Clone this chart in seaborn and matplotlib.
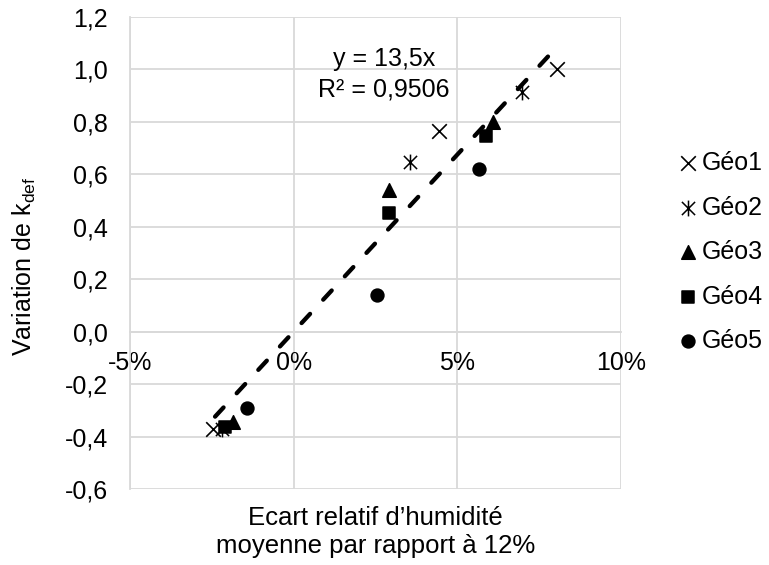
import numpy as np
import pandas as pd
import matplotlib
matplotlib.use("Agg")
import matplotlib.pyplot as plt
from matplotlib.path import Path
from matplotlib.ticker import FuncFormatter
import seaborn as sns

# Données (écart en fraction, variation de k_def)
series = ["Géo1", "Géo2", "Géo3", "Géo4", "Géo5"]
geo1_x = [-0.0245, 0.0444, 0.0805]
geo1_y = [-0.370, 0.764, 1.000]
geo2_x = [-0.0220, 0.0356, 0.0697]
geo2_y = [-0.370, 0.646, 0.913]
geo3_x = [-0.0185, 0.0291, 0.0609]
geo3_y = [-0.344, 0.540, 0.800]
geo4_x = [-0.0210, 0.0291, 0.0588]
geo4_y = [-0.362, 0.454, 0.746]
geo5_x = [-0.0142, 0.0255, 0.0566]
geo5_y = [-0.290, 0.140, 0.620]

trend_slope = 13.5
trend_r2 = 0.9506
trend_range = [-0.0240, 0.0777]

x_ticks = [-0.05, 0.0, 0.05, 0.10]
y_ticks = [-0.6, -0.4, -0.2, 0.0, 0.2, 0.4, 0.6, 0.8, 1.0, 1.2]

# astérisque façon Excel : croix + barre verticale
star_path = Path(
    [(-1, -1), (1, 1), (-1, 1), (1, -1), (0, -1.2), (0, 1.2)],
    [Path.MOVETO, Path.LINETO, Path.MOVETO, Path.LINETO, Path.MOVETO, Path.LINETO],
)

markers = {"Géo1": "x", "Géo2": star_path, "Géo3": "^", "Géo4": "s", "Géo5": "o"}
sizes = {"Géo1": 110, "Géo2": 130, "Géo3": 95, "Géo4": 80, "Géo5": 85}

df = pd.DataFrame({
    "x": geo1_x + geo2_x + geo3_x + geo4_x + geo5_x,
    "y": geo1_y + geo2_y + geo3_y + geo4_y + geo5_y,
    "serie": sum([[s] * 3 for s in series], []),
})

sns.set_style("white")
plt.rcParams["font.family"] = ["Liberation Sans", "DejaVu Sans"]
plt.rcParams["mathtext.fontset"] = "custom"
plt.rcParams["mathtext.rm"] = "Liberation Sans"
for key in ["text.color", "axes.labelcolor", "xtick.color", "ytick.color"]:
    plt.rcParams[key] = "black"

fig = plt.figure(figsize=(7.69, 5.65), dpi=100)
ax = fig.add_axes([0.169, 0.1345, 0.6385, 0.8355])

grid_col = "#d9d9d9"
fs = 18

# droite de tendance
tx = np.array(trend_range)
sns.lineplot(x=tx, y=trend_slope * tx, color="black", linewidth=3.1, ax=ax)
ax.lines[-1].set_dashes([2.9, 4.5])
ax.lines[-1].set_dash_capstyle("round")

for s in series:
    sub = df[df["serie"] == s]
    kw = {}
    if s == "Géo1":
        kw["linewidth"] = 1.2
    else:
        kw["edgecolor"] = "black"
        kw["linewidth"] = 1.1
    sns.scatterplot(data=sub, x="x", y="y", marker=markers[s], s=sizes[s],
                    color="black", label=s, ax=ax, zorder=3, **kw)

ax.set_xlim(-0.05, 0.10)
ax.set_ylim(-0.6, 1.2)
ax.set_xticks(x_ticks)
ax.set_yticks(y_ticks)
ax.xaxis.set_major_formatter(FuncFormatter(lambda v, p: f"{v * 100:.0f}%".replace("-0%", "0%")))
ax.yaxis.set_major_formatter(FuncFormatter(lambda v, p: f"{v:.1f}".replace(".", ",").replace("-0,0", "0,0")))
ax.grid(True, color=grid_col, linewidth=1.3)
ax.set_axisbelow(True)

for side in ["top", "right"]:
    ax.spines[side].set_visible(False)
ax.spines["left"].set_color(grid_col)
ax.spines["left"].set_linewidth(1.3)
ax.spines["bottom"].set_position(("data", 0))
ax.spines["bottom"].set_color(grid_col)
ax.spines["bottom"].set_linewidth(1.3)
ax.tick_params(axis="x", length=0, pad=14, labelsize=fs, labelcolor="black")
ax.tick_params(axis="y", length=0, pad=16, labelsize=fs, labelcolor="black")

ax.text(0.0276, 0.982, f"y = {trend_slope:.1f}x\nR² = {trend_r2:.4f}".replace(".", ","),
        ha="center", va="center", fontsize=fs, linespacing=1.36, color="black")

ax.set_xlabel("Ecart relatif d’humidité\nmoyenne par rapport à 12%", fontsize=18.5,
              linespacing=1.22, va="center", color="black")
ax.xaxis.set_label_coords(0.5, -0.091)
ax.set_ylabel(r"Variation de k$_\mathregular{def}$", fontsize=fs, va="center", color="black")
ax.yaxis.set_label_coords(-0.214, 0.472)

leg = ax.legend(loc="center left", bbox_to_anchor=(1.09, 0.502), frameon=False,
                fontsize=fs, handletextpad=0.05, labelspacing=0.82,
                handlelength=1.0, borderaxespad=0, labelcolor="black")

fig.savefig("out.png", dpi=100)
